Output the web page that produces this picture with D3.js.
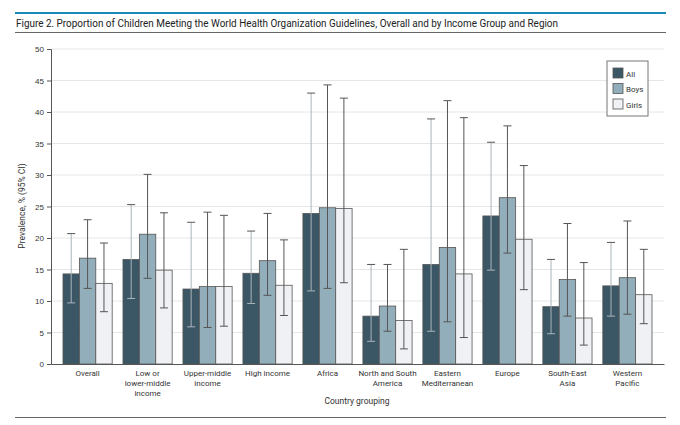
<!DOCTYPE html>
<html><head><meta charset="utf-8">
<script src="https://cdn.jsdelivr.net/npm/d3@7"></script>
<style>body{margin:0;background:#fff;font-family:"Roboto",sans-serif}</style>
</head><body><svg id="c" width="680" height="425"></svg>
<script>
var groups = ["Overall","Low or\nlower-middle\nincome","Upper-middle\nincome","High income","Africa","North and South\nAmerica","Eastern\nMediterranean","Europe","South-East\nAsia","Western\nPacific"];
var series = ["All","Boys","Girls"];
var colors = ["#3b5766","#93aebb","#eff1f4"];
var allVals  = [14.3,16.6,11.9,14.4,23.9,7.6,15.8,23.5,9.1,12.4];
var allLo    = [9.7,10.4,5.9,9.6,11.6,3.6,5.2,14.9,4.8,7.6];
var allHi    = [20.7,25.3,22.5,21.1,43.0,15.8,38.9,35.2,16.6,19.3];
var boysVals = [16.8,20.6,12.3,16.4,24.8,9.2,18.5,26.4,13.4,13.7];
var boysLo   = [12.0,13.6,5.8,10.9,12.0,5.2,6.7,17.6,7.6,7.9];
var boysHi   = [22.9,30.1,24.1,23.9,44.3,15.8,41.8,37.8,22.3,22.7];
var girlsVals= [12.8,14.9,12.3,12.5,24.7,6.9,14.3,19.8,7.3,11.0];
var girlsLo  = [8.3,8.9,6.0,7.7,12.9,2.4,4.2,11.8,3.0,6.4];
var girlsHi  = [19.2,24.0,23.6,19.7,42.2,18.2,39.1,31.5,16.1,18.2];
var yTicks = d3.range(0,51,5);

var svg = d3.select("#c");
svg.append("rect").attr("x",15).attr("y",12).attr("width",651).attr("height",2).attr("fill","#1a8bb9");
svg.append("text").attr("x",16).attr("y",27).attr("font-size",11).attr("fill","#222")
  .attr("textLength",542).attr("lengthAdjust","spacingAndGlyphs")
  .text("Figure 2. Proportion of Children Meeting the World Health Organization Guidelines, Overall and by Income Group and Region");
svg.append("rect").attr("x",15).attr("y",32).attr("width",651).attr("height",1).attr("fill","#666");
svg.append("rect").attr("x",15).attr("y",417).attr("width",651).attr("height",1).attr("fill","#666");

var x = d3.scaleBand().domain(groups).range([51,664]).paddingInner(0.18).paddingOuter(0.2);
var xs = d3.scaleBand().domain(series).range([0,x.bandwidth()]);
var y = d3.scaleLinear().domain([0,50]).range([364,49]);

svg.append("g").selectAll("line").data(yTicks.slice(1)).enter().append("line")
  .attr("x1",51).attr("x2",664).attr("y1",d=>y(d)).attr("y2",d=>y(d)).attr("stroke","#e6e6e6");

var ya = svg.append("g").attr("transform","translate(51,0)").call(d3.axisLeft(y).tickValues(yTicks).tickSize(4));
ya.selectAll("text").attr("font-size",8).attr("fill","#333");
ya.selectAll("line,path").attr("stroke","#555");
var xa = svg.append("g").attr("transform","translate(0,364)").call(d3.axisBottom(x).tickSize(0).tickFormat(""));
xa.select("path").attr("stroke","#555");
svg.append("text").attr("transform","translate(25,206) rotate(-90)").attr("text-anchor","middle")
  .attr("font-size",8.5).attr("fill","#333").text("Prevalence, % (95% CI)");
svg.append("text").attr("x",357).attr("y",404).attr("text-anchor","middle").attr("font-size",8.5).attr("fill","#333").text("Country grouping");

groups.forEach(function(g){
  var lines = g.split("\n");
  var t = svg.append("text").attr("x",x(g)+x.bandwidth()/2).attr("y",376).attr("text-anchor","middle").attr("font-size",8).attr("fill","#333");
  lines.forEach((l,i)=>t.append("tspan").attr("x",x(g)+x.bandwidth()/2).attr("dy",i?10:0).text(l));
});

var data = [[allVals,allLo,allHi],[boysVals,boysLo,boysHi],[girlsVals,girlsLo,girlsHi]];
series.forEach(function(s,si){
  var rows = groups.map((g,i)=>({g:g,v:data[si][0][i],lo:data[si][1][i],hi:data[si][2][i]}));
  var gg = svg.append("g");
  gg.selectAll("rect").data(rows).enter().append("rect")
    .attr("x",d=>x(d.g)+xs(s)).attr("width",xs.bandwidth())
    .attr("y",d=>y(d.v)).attr("height",d=>y(0)-y(d.v))
    .attr("fill",colors[si]).attr("stroke","#555").attr("stroke-width",0.8);
  var ec = si==0 ? "#aab4ba" : "#555";
  var cx = d=>x(d.g)+xs(s)+xs.bandwidth()/2;
  gg.selectAll("line.v").data(rows).enter().append("line").attr("x1",cx).attr("x2",cx)
    .attr("y1",d=>y(d.lo)).attr("y2",d=>y(d.hi)).attr("stroke",ec);
  gg.selectAll("line.h").data(rows).enter().append("line").attr("x1",d=>cx(d)-4).attr("x2",d=>cx(d)+4)
    .attr("y1",d=>y(d.hi)).attr("y2",d=>y(d.hi)).attr("stroke","#555");
  gg.selectAll("line.l").data(rows).enter().append("line").attr("x1",d=>cx(d)-4).attr("x2",d=>cx(d)+4)
    .attr("y1",d=>y(d.lo)).attr("y2",d=>y(d.lo)).attr("stroke",ec);
});

var lg = svg.append("g").attr("transform","translate(607,61)");
lg.append("rect").attr("width",41).attr("height",55).attr("fill","#fff").attr("stroke","#777");
series.forEach(function(s,i){
  lg.append("rect").attr("x",6).attr("y",7+i*15.5).attr("width",10).attr("height",10).attr("fill",colors[i]).attr("stroke","#555").attr("stroke-width",0.8);
  lg.append("text").attr("x",19).attr("y",15.5+i*15.5).attr("font-size",8).attr("fill","#333").text(s);
});
</script></body></html>
